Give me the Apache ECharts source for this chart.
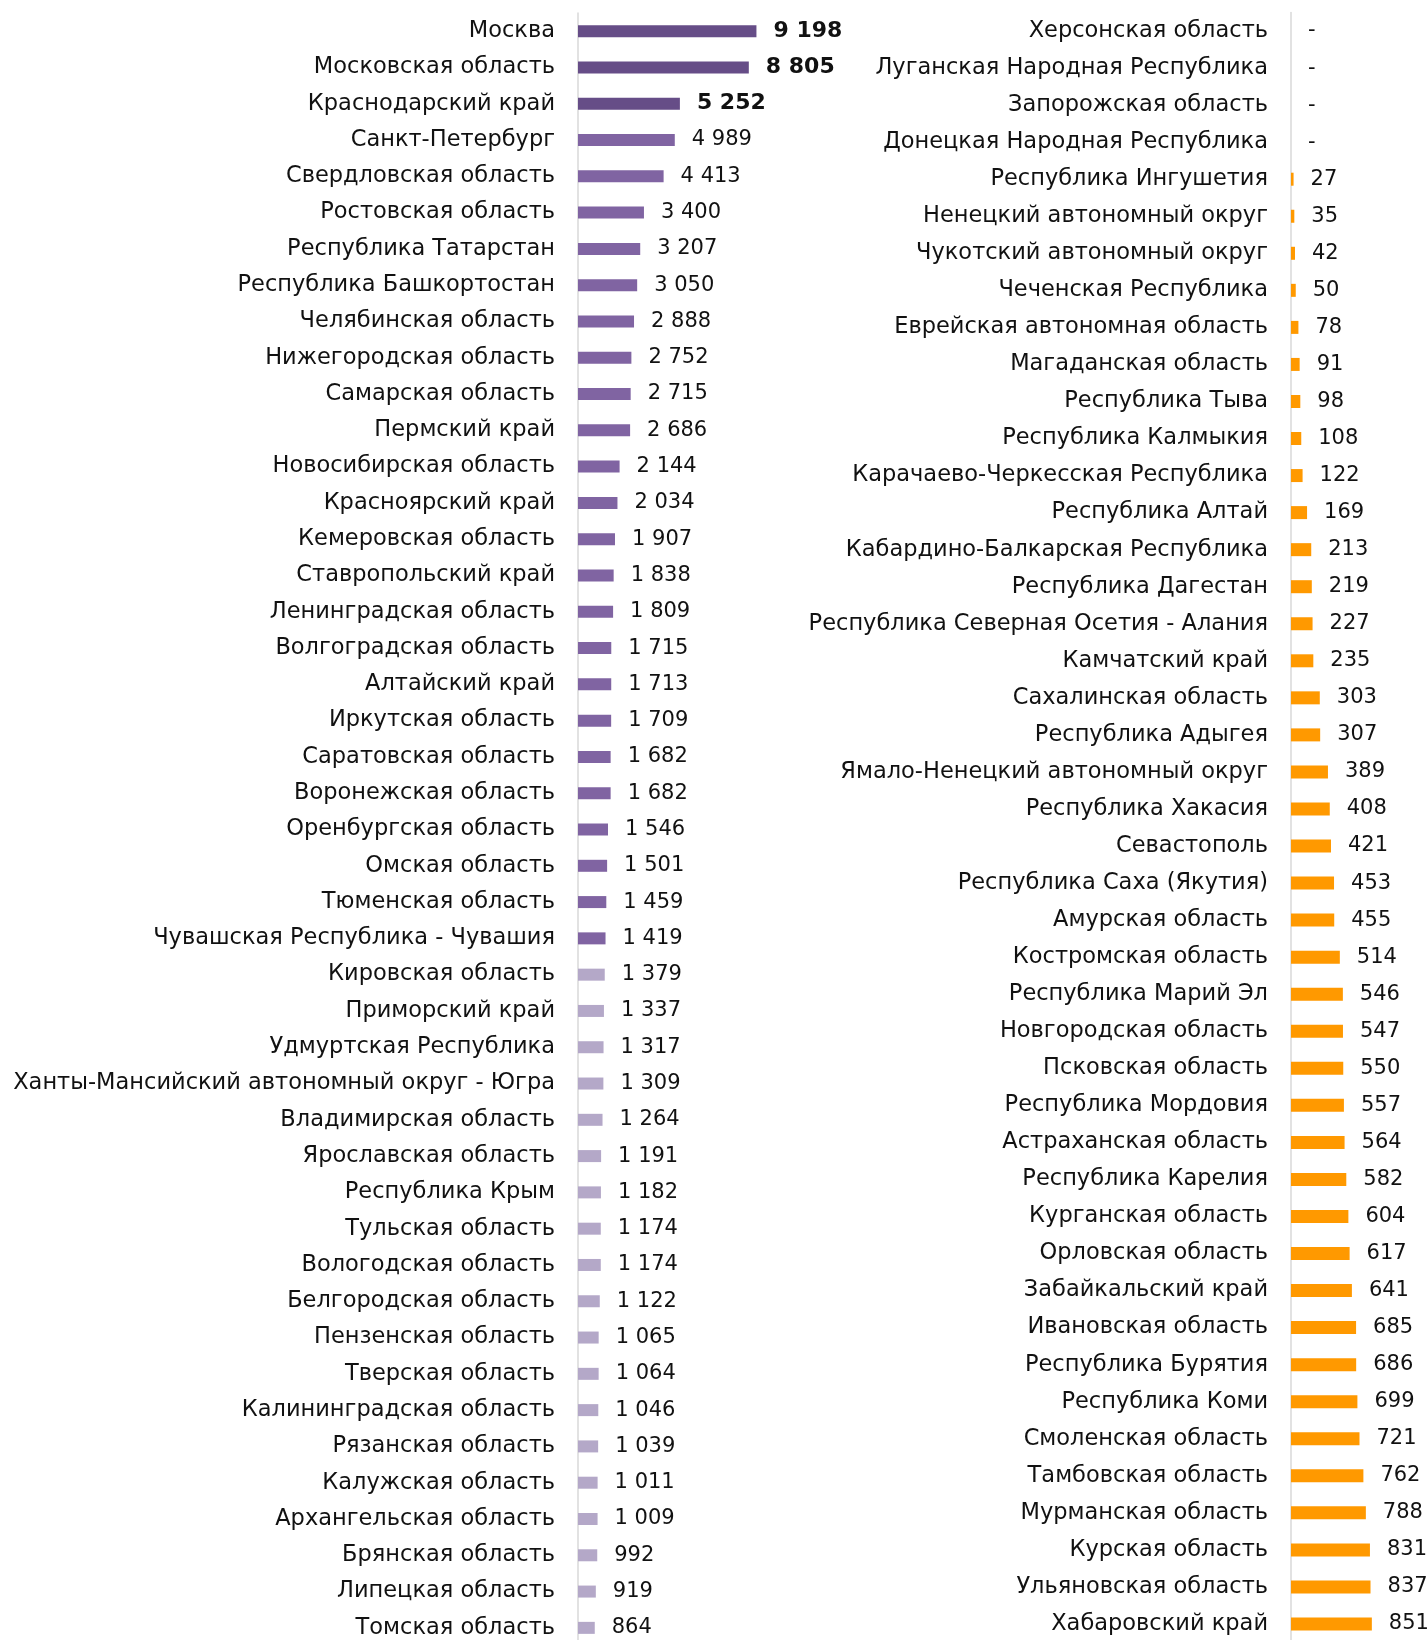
<!DOCTYPE html>
<html>
<head>
<meta charset="utf-8">
<script src="https://cdn.jsdelivr.net/npm/echarts@6/dist/echarts.min.js"></script>
<style>
  html, body { margin: 0; padding: 0; background: #fff; overflow: hidden; }
  #chart { width: 1427px; height: 1650px; }
</style>
</head>
<body>
<div id="chart"></div>
<script>
var leftNames = [
  'Москва', 'Московская область', 'Краснодарский край', 'Санкт-Петербург',
  'Свердловская область', 'Ростовская область', 'Республика Татарстан',
  'Республика Башкортостан', 'Челябинская область', 'Нижегородская область',
  'Самарская область', 'Пермский край', 'Новосибирская область',
  'Красноярский край', 'Кемеровская область', 'Ставропольский край',
  'Ленинградская область', 'Волгоградская область', 'Алтайский край',
  'Иркутская область', 'Саратовская область', 'Воронежская область',
  'Оренбургская область', 'Омская область', 'Тюменская область',
  'Чувашская Республика - Чувашия', 'Кировская область', 'Приморский край',
  'Удмуртская Республика', 'Ханты-Мансийский автономный округ - Югра',
  'Владимирская область', 'Ярославская область', 'Республика Крым',
  'Тульская область', 'Вологодская область', 'Белгородская область',
  'Пензенская область', 'Тверская область', 'Калининградская область',
  'Рязанская область', 'Калужская область', 'Архангельская область',
  'Брянская область', 'Липецкая область', 'Томская область'
];
var leftValues = [
  9198, 8805, 5252, 4989, 4413, 3400, 3207, 3050, 2888, 2752, 2715, 2686,
  2144, 2034, 1907, 1838, 1809, 1715, 1713, 1709, 1682, 1682, 1546, 1501,
  1459, 1419, 1379, 1337, 1317, 1309, 1264, 1191, 1182, 1174, 1174, 1122,
  1065, 1064, 1046, 1039, 1011, 1009, 992, 919, 864
];
// 0 = top three, 1 = middle group, 2 = light group
var leftGroups = [
  0, 0, 0, 1, 1, 1, 1, 1, 1, 1, 1, 1, 1, 1, 1, 1, 1, 1, 1, 1, 1, 1, 1, 1,
  1, 1, 2, 2, 2, 2, 2, 2, 2, 2, 2, 2, 2, 2, 2, 2, 2, 2, 2, 2, 2
];

var rightNames = [
  'Херсонская область', 'Луганская Народная Республика', 'Запорожская область',
  'Донецкая Народная Республика', 'Республика Ингушетия',
  'Ненецкий автономный округ', 'Чукотский автономный округ',
  'Чеченская Республика', 'Еврейская автономная область',
  'Магаданская область', 'Республика Тыва', 'Республика Калмыкия',
  'Карачаево-Черкесская Республика', 'Республика Алтай',
  'Кабардино-Балкарская Республика', 'Республика Дагестан',
  'Республика Северная Осетия - Алания', 'Камчатский край',
  'Сахалинская область', 'Республика Адыгея', 'Ямало-Ненецкий автономный округ',
  'Республика Хакасия', 'Севастополь', 'Республика Саха (Якутия)',
  'Амурская область', 'Костромская область', 'Республика Марий Эл',
  'Новгородская область', 'Псковская область', 'Республика Мордовия',
  'Астраханская область', 'Республика Карелия', 'Курганская область',
  'Орловская область', 'Забайкальский край', 'Ивановская область',
  'Республика Бурятия', 'Республика Коми', 'Смоленская область',
  'Тамбовская область', 'Мурманская область', 'Курская область',
  'Ульяновская область', 'Хабаровский край'
];
var rightValues = [
  null, null, null, null, 27, 35, 42, 50, 78, 91, 98, 108, 122, 169, 213, 219,
  227, 235, 303, 307, 389, 408, 421, 453, 455, 514, 546, 547, 550, 557, 564,
  582, 604, 617, 641, 685, 686, 699, 721, 762, 788, 831, 837, 851
];

var groupColors = ['#664d87', '#8064a2', '#b4a8c8'];
var orange = '#ff9900';
var font = 'DejaVu Sans';

function fmt(v) {
  return String(v).replace(/\B(?=(\d{3})+(?!\d))/g, ' ');
}

var leftData = leftValues.map(function(v, i) {
  var item = { value: v, itemStyle: { color: groupColors[leftGroups[i]] } };
  if (leftGroups[i] === 0) {
    item.label = { fontWeight: 'bold', fontSize: 22 };
  }
  return item;
});

var rightData = rightValues.map(function(v) {
  if (v === null) {
    return { value: 0, label: { formatter: '-' } };
  }
  return v;
});

// transparent background so that the top padding nudges text down a little
var catLabel = {
  color: '#111',
  fontFamily: font,
  fontSize: 22.5,
  margin: 23,
  interval: 0,
  backgroundColor: 'rgba(255,255,255,0)',
  padding: [5, 0, 0, 0]
};

var valueLabel = {
  show: true,
  position: 'right',
  distance: 17,
  color: '#111',
  fontFamily: font,
  fontSize: 21,
  backgroundColor: 'rgba(255,255,255,0)',
  padding: [5, 0, 0, 0],
  formatter: function(p) { return fmt(p.value); }
};

var chart = echarts.init(document.getElementById('chart'), null, { renderer: 'canvas' });
chart.setOption({
  animation: false,
  backgroundColor: '#fff',
  grid: [
    { left: 578, top: 13, width: 194, height: 1633 },
    { left: 1291, top: 12.5, width: 95, height: 1630 }
  ],
  xAxis: [
    { gridIndex: 0, type: 'value', min: 0, max: 10000, show: false },
    { gridIndex: 1, type: 'value', min: 0, max: 1000, show: false }
  ],
  yAxis: [
    {
      gridIndex: 0,
      type: 'category',
      inverse: true,
      data: leftNames,
      axisLine: { lineStyle: { color: '#d9d9d9', width: 1.5 } },
      axisTick: { show: false },
      axisLabel: catLabel
    },
    {
      gridIndex: 1,
      type: 'category',
      inverse: true,
      data: rightNames,
      axisLine: { lineStyle: { color: '#d9d9d9', width: 1.5 } },
      axisTick: { show: false },
      axisLabel: catLabel
    }
  ],
  series: [
    {
      type: 'bar',
      xAxisIndex: 0,
      yAxisIndex: 0,
      barWidth: 12,
      data: leftData,
      label: valueLabel
    },
    {
      type: 'bar',
      xAxisIndex: 1,
      yAxisIndex: 1,
      barWidth: 13,
      data: rightData,
      itemStyle: { color: orange },
      label: valueLabel
    }
  ]
});
</script>
</body>
</html>
